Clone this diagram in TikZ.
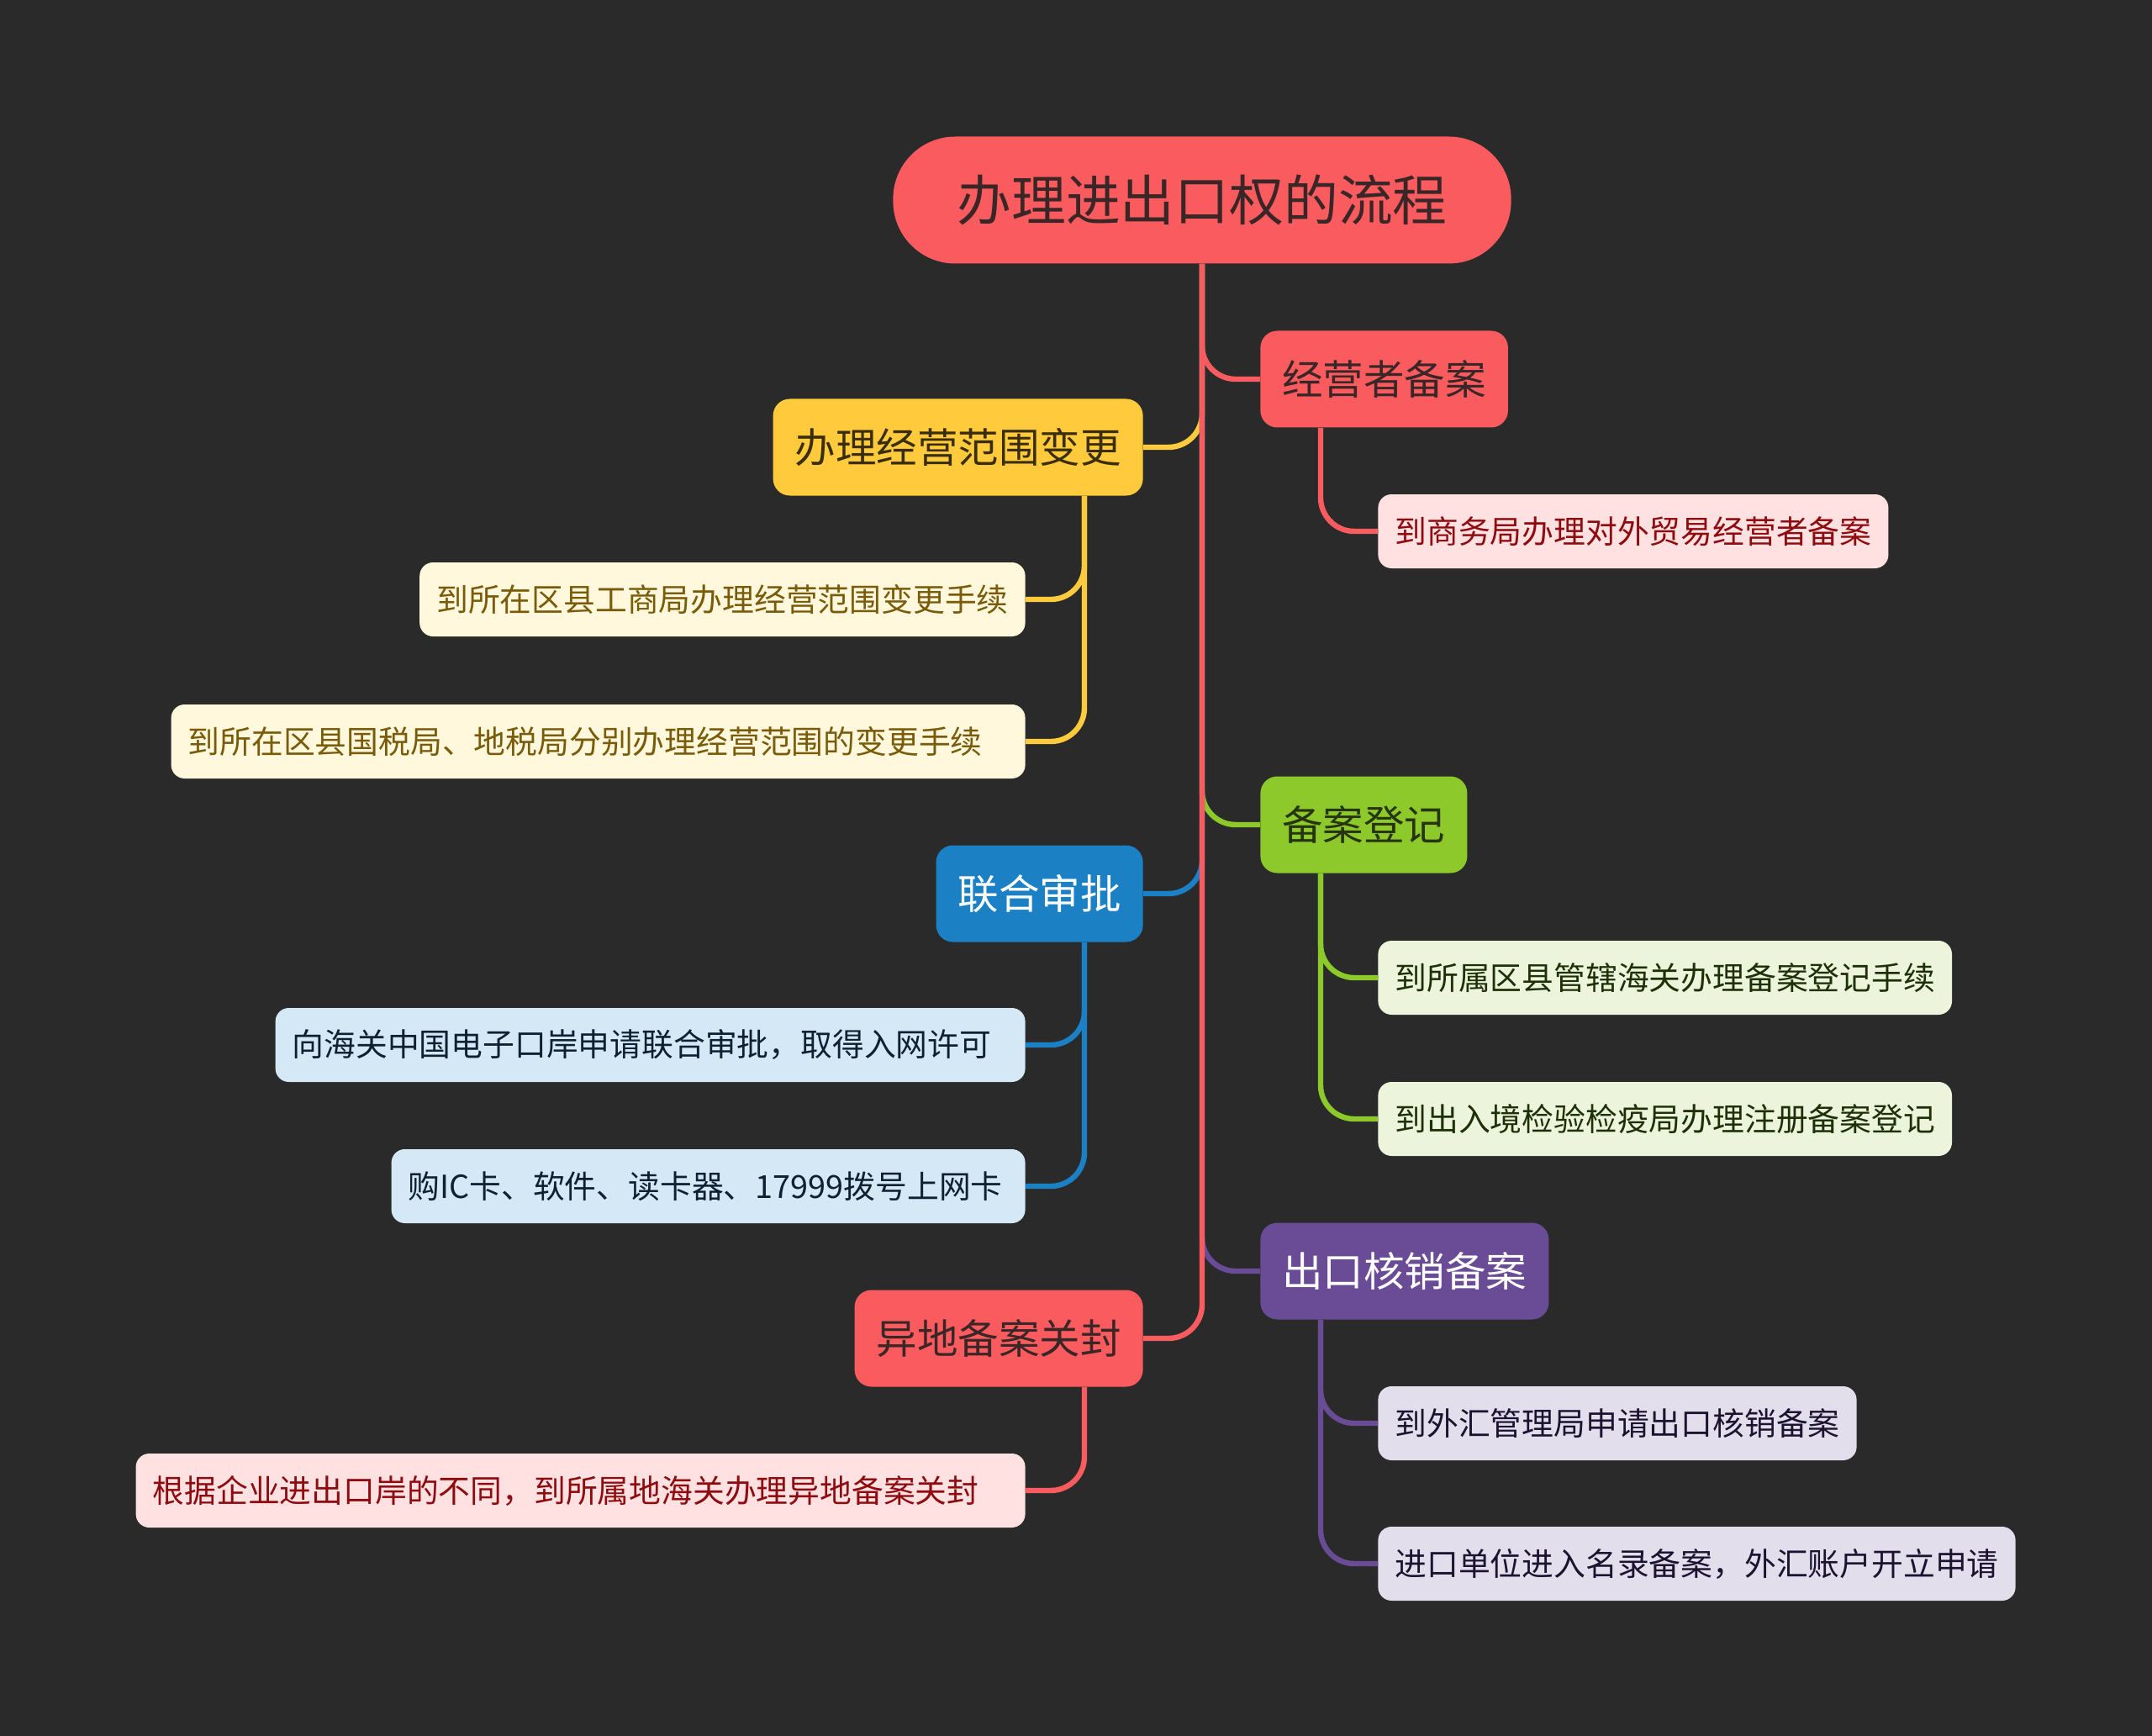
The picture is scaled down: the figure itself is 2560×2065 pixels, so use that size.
\documentclass[tikz,border=0pt]{standalone}
\usepackage{fontspec}
\newfontfamily\cjk{Noto Sans CJK SC}

\definecolor{bgdark}{HTML}{2A2A2A}
\definecolor{redmain}{HTML}{F95B5E}
\definecolor{redtext}{HTML}{3A2626}
\definecolor{redleaf}{HTML}{FFE1E2}
\definecolor{redleaftext}{HTML}{8E0B10}
\definecolor{yelmain}{HTML}{FFCB3D}
\definecolor{yeltext}{HTML}{3A2E0A}
\definecolor{yelleaf}{HTML}{FFF8DC}
\definecolor{yelleaftext}{HTML}{7A5B0A}
\definecolor{grnmain}{HTML}{8DC92A}
\definecolor{grntext}{HTML}{263510}
\definecolor{grnleaf}{HTML}{ECF5DC}
\definecolor{grnleaftext}{HTML}{1E3008}
\definecolor{blumain}{HTML}{1B80C4}
\definecolor{bluleaf}{HTML}{D4E8F5}
\definecolor{bluleaftext}{HTML}{0E2033}
\definecolor{purmain}{HTML}{6A4C96}
\definecolor{purleaf}{HTML}{E3DEEC}
\definecolor{purleaftext}{HTML}{1B1330}

\tikzset{
	rootnode/.style={fill=redmain, text=redtext, rounded corners=37pt, minimum height=75.5pt,
		inner xsep=38pt, inner ysep=0pt, font=\cjk\fontsize{32.4pt}{38pt}\selectfont},
	topic/.style={rounded corners=10pt, minimum height=57.5pt, inner xsep=13pt, inner ysep=0pt,
		font=\cjk\fontsize{24.25pt}{28pt}\selectfont},
	subtopic/.style={rounded corners=8pt, minimum height=44pt, inner xsep=10pt, inner ysep=0pt,
		font=\cjk\fontsize{18.9pt}{22pt}\selectfont},
	widesub/.style={text width=#1, align=left},
	link/.style={line width=3.2pt, rounded corners=20pt},
}

\begin{document}
\begin{tikzpicture}[x=0.5pt,y=-0.5pt]
	% Background
	\fill[bgdark] (0,0) rectangle (2560,2065);

	% Root
	\node[rootnode] (root) at (1430,238) {办理进出口权的流程};

	% Topics
	\node[topic, anchor=west, fill=redmain, text=redtext] (jyz) at (1499,451) {经营者备案};
	\node[topic, anchor=east, fill=yelmain, text=yeltext] (jyfw) at (1360,532) {办理经营范围变更};
	\node[topic, anchor=west, fill=grnmain, text=grntext] (badj) at (1499,981) {备案登记};
	\node[topic, anchor=east, fill=blumain, text=white] (lhsp) at (1360,1063) {联合审批};
	\node[topic, anchor=west, fill=purmain, text=white] (ckhx) at (1499,1512) {出口核销备案};
	\node[topic, anchor=east, fill=redmain, text=redtext] (ydba) at (1360,1592) {异地备案关封};

	% Subtopics
	\node[subtopic, anchor=west, fill=redleaf, text=redleaftext] (swj) at (1639,632) {到商务局办理对外贸易经营者备案};
	\node[subtopic, anchor=east, fill=yelleaf, text=yelleaftext] (gsj) at (1220,713) {到所在区县工商局办理经营范围变更手续};
	\node[subtopic, widesub=488pt, anchor=east, fill=yelleaf, text=yelleaftext] (gsdj) at (1220,882) {到所在区县国税局、地税局分别办理经营范围的变更手续};
	\node[subtopic, anchor=west, fill=grnleaf, text=grnleaftext] (hgba) at (1639,1163) {到所属区县管辖海关办理备案登记手续};
	\node[subtopic, widesub=426pt, anchor=east, fill=bluleaf, text=bluleaftext] (dzka) at (1220,1243) {向海关中国电子口岸申请联合审批，取得入网许可};
	\node[subtopic, anchor=west, fill=grnleaf, text=grnleaftext] (jyjy) at (1639,1331) {到出入境检验检疫局办理注册备案登记};
	\node[subtopic, widesub=357pt, anchor=east, fill=bluleaf, text=bluleaftext] (ick) at (1220,1411) {购IC卡、软件、读卡器、17999拨号上网卡};
	\node[subtopic, anchor=west, fill=purleaf, text=purleaftext] (whj) at (1639,1693) {到外汇管理局申请出口核销备案};
	\node[subtopic, widesub=509pt, anchor=east, fill=redleaf, text=redleaftext] (gfhg) at (1220,1773) {根据企业进出口岸的不同，到所属地海关办理异地备案关封};
	\node[subtopic, anchor=west, fill=purleaf, text=purleaftext] (mlba) at (1639,1860) {进口单位进入名录备案，外汇账户开立申请};

	% Links from root
	\draw[link, yelmain] (root.south) |- (jyfw.east);
	\draw[link, grnmain] (root.south) |- (badj.west);
	\draw[link, blumain] (root.south) |- (lhsp.east);
	\draw[link, purmain] (root.south) |- (ckhx.west);
	\draw[link, redmain] (root.south) |- (jyz.west);
	\draw[link, redmain] (root.south) |- (ydba.east);

	% Links to subtopics
	\draw[link, redmain] ([xshift=36pt]jyz.south west) |- (swj.west);
	\draw[link, yelmain] ([xshift=-35pt]jyfw.south east) |- (gsj.east);
	\draw[link, yelmain] ([xshift=-35pt]jyfw.south east) |- (gsdj.east);
	\draw[link, grnmain] ([xshift=36pt]badj.south west) |- (hgba.west);
	\draw[link, grnmain] ([xshift=36pt]badj.south west) |- (jyjy.west);
	\draw[link, blumain] ([xshift=-35pt]lhsp.south east) |- (dzka.east);
	\draw[link, blumain] ([xshift=-35pt]lhsp.south east) |- (ick.east);
	\draw[link, purmain] ([xshift=36pt]ckhx.south west) |- (whj.west);
	\draw[link, purmain] ([xshift=36pt]ckhx.south west) |- (mlba.west);
	\draw[link, redmain] ([xshift=-35pt]ydba.south east) |- (gfhg.east);
\end{tikzpicture}
\end{document}
